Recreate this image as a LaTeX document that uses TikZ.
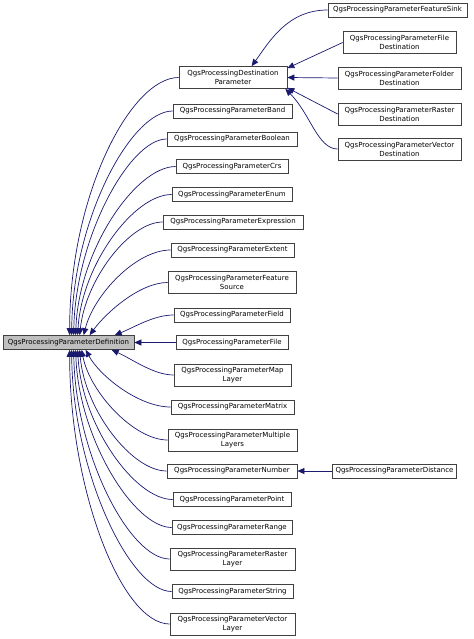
\documentclass[tikz,border=0pt]{standalone}
\usepackage{fontspec}
\setmainfont{DejaVu Sans}
\usetikzlibrary{arrows.meta,calc}
\definecolor{edgecol}{HTML}{191970}
\definecolor{basefill}{HTML}{BFBFBF}
\begin{document}
\begin{tikzpicture}[x=1bp,y=-1bp,
  box/.style={draw=black!75,line width=0.7bp,fill=white,inner xsep=3bp,inner ysep=3bp,
     minimum height=14bp,align=center,font=\fontsize{7bp}{9bp}\selectfont},
  edge/.style={draw=edgecol,line width=0.7bp,-{Triangle[length=7bp,width=6bp]}}]
\useasboundingbox (0,0) rectangle (474,639);
% base
\node[box,fill=basefill,minimum width=131bp] (def) at (68.5,342.5) {QgsProcessingParameterDefinition};
% middle column
\node[box,minimum width=108bp,minimum height=22bp] (dest) at (233,77.5) {QgsProcessingDestination\\Parameter};
\node[box,minimum width=119bp] (band) at (232.5,111) {QgsProcessingParameterBand};
\node[box,minimum width=130bp] (bool) at (232,139) {QgsProcessingParameterBoolean};
\node[box,minimum width=112bp] (crs) at (232,166.5) {QgsProcessingParameterCrs};
\node[box,minimum width=120bp] (enum) at (232,194.5) {QgsProcessingParameterEnum};
\node[box,minimum width=140bp] (expr) at (233,222) {QgsProcessingParameterExpression};
\node[box,minimum width=123bp] (extent) at (232.5,250) {QgsProcessingParameterExtent};
\node[box,minimum width=128bp,minimum height=22bp] (fsrc) at (232,282.5) {QgsProcessingParameterFeature\\Source};
\node[box,minimum width=116bp] (field) at (232,315) {QgsProcessingParameterField};
\node[box,minimum width=112bp] (file) at (232,342.5) {QgsProcessingParameterFile};
\node[box,minimum width=117bp,minimum height=22bp] (maplayer) at (232.5,375) {QgsProcessingParameterMap\\Layer};
\node[box,minimum width=123bp] (matrix) at (232.5,407) {QgsProcessingParameterMatrix};
\node[box,minimum width=129bp,minimum height=22bp] (multi) at (232.5,440) {QgsProcessingParameterMultiple\\Layers};
\node[box,minimum width=130bp] (number) at (232,471) {QgsProcessingParameterNumber};
\node[box,minimum width=118bp] (point) at (232,499.5) {QgsProcessingParameterPoint};
\node[box,minimum width=120bp] (range) at (232,527.5) {QgsProcessingParameterRange};
\node[box,minimum width=125bp,minimum height=22bp] (rlayer) at (232.5,559) {QgsProcessingParameterRaster\\Layer};
\node[box,minimum width=121bp] (string) at (232.5,591.5) {QgsProcessingParameterString};
\node[box,minimum width=125bp,minimum height=22bp] (vlayer) at (232.5,624) {QgsProcessingParameterVector\\Layer};
% right column
\node[box,minimum width=139bp] (fsink) at (397.5,10) {QgsProcessingParameterFeatureSink};
\node[box,minimum width=113bp,minimum height=22bp] (fdest) at (399.5,42.5) {QgsProcessingParameterFile\\Destination};
\node[box,minimum width=123bp,minimum height=22bp] (folddest) at (399.5,78) {QgsProcessingParameterFolder\\Destination};
\node[box,minimum width=123bp,minimum height=22bp] (rdest) at (399.5,114) {QgsProcessingParameterRaster\\Destination};
\node[box,minimum width=123bp,minimum height=22bp] (vdest) at (399.5,149) {QgsProcessingParameterVector\\Destination};
\node[box,minimum width=123bp] (dist) at (394.5,471) {QgsProcessingParameterDistance};
% edges into def (top)
\draw[edge] (dest.west) .. controls +(-48,0) and +(0,-140) .. ($(def.north west)+(67,0)$);
\draw[edge] (band.west) .. controls +(-42,0) and +(1,-115) .. ($(def.north west)+(69,0)$);
\draw[edge] (bool.west) .. controls +(-37,0) and +(2,-98) .. ($(def.north west)+(71,0)$);
\draw[edge] (crs.west) .. controls +(-40,0) and +(3,-85) .. ($(def.north west)+(73,0)$);
\draw[edge] (enum.west) .. controls +(-38,0) and +(4,-70) .. ($(def.north west)+(75,0)$);
\draw[edge] (expr.west) .. controls +(-33,0) and +(6,-56) .. ($(def.north west)+(77,0)$);
\draw[edge] (extent.west) .. controls +(-35,0) and +(10,-40) .. ($(def.north west)+(81,0)$);
\draw[edge] (fsrc.west) .. controls +(-28,0) and +(16,-22) .. ($(def.north west)+(87,0)$);
\draw[edge] (field.west) .. controls +(-20,0) and +(20,-8) .. ($(def.north west)+(112,0)$);
\draw[edge] (file.west) -- (def.east);
% edges into def (bottom)
\draw[edge] (maplayer.west) .. controls +(-20,0) and +(20,9) .. ($(def.south west)+(109,0)$);
\draw[edge] (matrix.west) .. controls +(-32,0) and +(14,26) .. ($(def.south west)+(83,0)$);
\draw[edge] (multi.west) .. controls +(-34,0) and +(8,42) .. ($(def.south west)+(79,0)$);
\draw[edge] (number.west) .. controls +(-35,0) and +(5,60) .. ($(def.south west)+(77,0)$);
\draw[edge] (point.west) .. controls +(-38,0) and +(4,75) .. ($(def.south west)+(75,0)$);
\draw[edge] (range.west) .. controls +(-38,0) and +(3,88) .. ($(def.south west)+(73,0)$);
\draw[edge] (rlayer.west) .. controls +(-40,0) and +(2,105) .. ($(def.south west)+(71,0)$);
\draw[edge] (string.west) .. controls +(-42,0) and +(1,121) .. ($(def.south west)+(69,0)$);
\draw[edge] (vlayer.west) .. controls +(-48,0) and +(0,140) .. ($(def.south west)+(67,0)$);
% edges into dest
\draw[edge] (fsink.west) .. controls +(-40,0) and +(18,-25) .. ($(dest.north west)+(73,0)$);
\draw[edge] (fdest.west) -- ($(dest.north east)+(0,2)$);
\draw[edge] (folddest.west) -- (dest.east);
\draw[edge] (rdest.west) -- ($(dest.south east)+(0,-1)$);
\draw[edge] (vdest.west) .. controls +(-20,0) and +(25,25) .. ($(dest.south east)+(-2,0)$);
% distance
\draw[edge] (dist.west) -- (number.east);
\end{tikzpicture}
\end{document}
